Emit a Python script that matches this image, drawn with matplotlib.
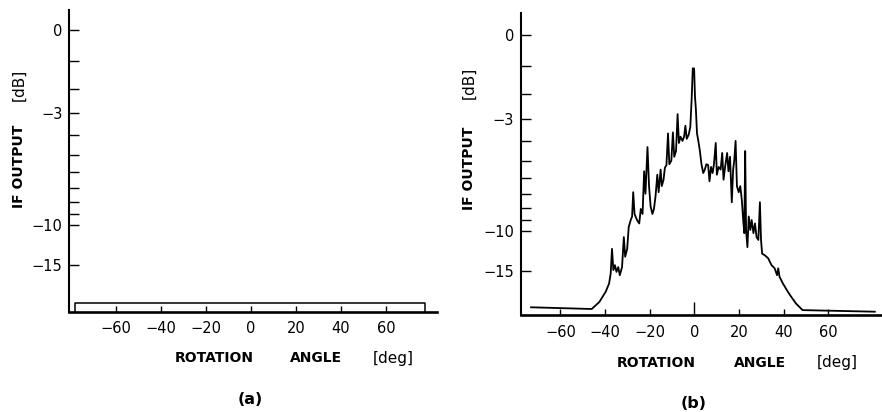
import numpy as np
import matplotlib
matplotlib.use("Agg")
import matplotlib.pyplot as plt

# ---------------- data ----------------
# panel (a): flat trace near the noise floor (outline)
angle_a = [-78, -78, 77.5, 77.5]
output_a_db = [-38, -27.5, -27.5, -38]

# panel (b): IF output vs rotation angle
angle_b = [-73.2, -46.0, -42.6, -39.7, -38.2, -37.5, -36.9, -36.3, -35.6, -34.9,
           -34.1, -33.4, -32.4, -31.6, -31.0, -30.1, -29.4, -28.5, -27.9, -27.4,
           -26.8, -25.7, -24.7, -24.0, -23.2, -22.5, -21.9, -21.0, -20.3, -19.6,
           -18.8, -18.1, -17.4, -16.6, -16.0, -15.1, -14.6, -13.8, -13.2, -12.5,
           -11.8, -11.2, -10.3, -9.6, -9.0, -8.2, -7.5, -6.9, -6.2, -5.3,
           -4.6, -4.0, -3.4, -2.5, -1.8, -1.2, -0.7, -0.1, 0.3, 0.7,
           1.2, 1.8, 2.5, 3.2, 4.0, 4.7, 5.4, 6.2, 6.8, 7.5,
           8.2, 8.8, 9.6, 10.1, 10.9, 11.8, 12.5, 13.1, 13.8, 14.7,
           15.3, 16.0, 16.8, 17.4, 17.9, 18.5, 19.1, 19.9, 20.6, 21.3,
           21.9, 22.4, 22.8, 23.2, 23.8, 24.4, 25.1, 25.7, 26.5, 27.2,
           27.9, 28.7, 29.4, 29.9, 30.4, 31.6, 33.1, 34.6, 36.0, 37.1,
           37.6, 38.2, 39.7, 41.9, 43.4, 45.6, 48.5, 80.9]
output_b_db = [-26.0, -27.1, -23.3, -19.6, -17.5, -15.5, -11.9, -14.9, -14.1, -15.2,
               -14.4, -15.8, -14.4, -10.6, -12.9, -11.9, -9.6, -9.0, -8.7, -6.9,
               -8.5, -9.0, -9.3, -8.1, -8.5, -5.6, -7.0, -4.3, -6.5, -7.9,
               -8.5, -8.1, -7.2, -5.8, -6.9, -5.5, -6.5, -6.1, -5.4, -5.25,
               -3.65, -5.2, -5.0, -3.6, -4.8, -4.5, -2.8, -4.1, -3.8, -4.0,
               -3.8, -3.3, -3.9, -3.7, -3.35, -2.2, -1.07, -1.07, -2.1, -2.6,
               -3.65, -4.0, -4.5, -5.2, -5.7, -5.5, -5.2, -5.25, -6.2, -5.35,
               -5.7, -5.2, -4.1, -5.8, -5.35, -5.5, -4.6, -6.1, -5.35, -4.6,
               -5.6, -4.8, -7.6, -5.5, -5.0, -4.0, -6.5, -6.9, -6.5, -7.45,
               -9.0, -10.2, -4.5, -9.9, -11.7, -8.7, -9.9, -9.0, -10.2, -9.3,
               -10.6, -10.9, -7.6, -10.9, -12.5, -12.7, -13.1, -14.1, -14.6, -15.8,
               -14.6, -16.1, -17.5, -19.6, -21.2, -24.0, -27.9, -29.2]

x_ticks = [-60, -40, -20, 0, 20, 40, 60]
y_major = [0, -3, -10, -15]
y_major_labels = ["0", "\u22123", "\u221210", "\u221215"]
y_minor = [-1, -2, -4, -5, -6, -7, -8, -9]

# ---------------- figure ----------------
W, H = 882, 412
fig = plt.figure(figsize=(W / 100, H / 100), dpi=100)
plt.rcParams['font.family'] = ['DejaVu Sans']


def fwd(d):
    return 10 ** (np.asarray(d, dtype=float) / 20.0)


def inv(a):
    return 20 * np.log10(np.clip(np.asarray(a, dtype=float), 1e-6, None))


def style(ax, xlim, ylim, zero_tick_len):
    ax.set_yscale('function', functions=(fwd, inv))
    ax.set_xlim(*xlim)
    ax.set_ylim(*ylim)
    for s in ('top', 'right'):
        ax.spines[s].set_visible(False)
    ax.spines['bottom'].set_linewidth(1.9)
    ax.spines['left'].set_linewidth(1.5)
    ax.set_xticks(x_ticks)
    ax.set_xticklabels([("\u2212%d" % -v) if v < 0 else "%d" % v for v in x_ticks])
    ax.set_yticks(y_major)
    ax.set_yticklabels(y_major_labels)
    ax.set_yticks(y_minor, minor=True)
    ax.tick_params(axis='x', direction='in', length=4.3, width=1.0, pad=7,
                   labelsize=10.5)
    ax.tick_params(axis='y', which='both', direction='in', length=7.2, width=1.0,
                   pad=5, labelsize=10.5)
    for t, v in zip(ax.xaxis.get_major_ticks(), x_ticks):
        if v == 0:
            t.tick1line.set_markersize(zero_tick_len)


ax_a = fig.add_axes([69.3 / W, 1 - 311.7 / H, 367.4 / W, (311.7 - 10) / H])
ax_b = fig.add_axes([521 / W, 1 - 315 / H, 360.7 / W, (315 - 13.3) / H])

style(ax_a, (-80.5, 82.5), (-38, 0.59), 4.3)
style(ax_b, (-77.7, 84), (-32.7, 0.64), 9.5)

ax_a.plot(angle_a, output_a_db, color='black', lw=1.1)
ax_b.plot(angle_b, output_b_db, color='black', lw=1.3)

# ---------------- labels ----------------
def ftext(px, py, s, **kw):
    fig.text(px / W, 1 - py / H, s, **kw)


for xc, yc1, yc2 in [(19, 166, 85), (469, 168.5, 83)]:
    ftext(xc, yc1, "IF OUTPUT", rotation=90, fontsize=10, fontweight='bold',
          ha='center', va='center')
    ftext(xc, yc2, "[dB]", rotation=90, fontsize=11, ha='center', va='center')

for (x1, x2, x3, yc) in [(214.5, 316, 393, 358), (656.5, 760, 837, 363)]:
    ftext(x1, yc, "ROTATION", fontsize=10, fontweight='bold', ha='center', va='center')
    ftext(x2, yc, "ANGLE", fontsize=10, fontweight='bold', ha='center', va='center')
    ftext(x3, yc, "[deg]", fontsize=11, ha='center', va='center')

ftext(250, 400, "(a)", fontsize=11.5, fontweight='bold', ha='center', va='center')
ftext(694, 404, "(b)", fontsize=11.5, fontweight='bold', ha='center', va='center')

fig.savefig("out.png", dpi=100)
